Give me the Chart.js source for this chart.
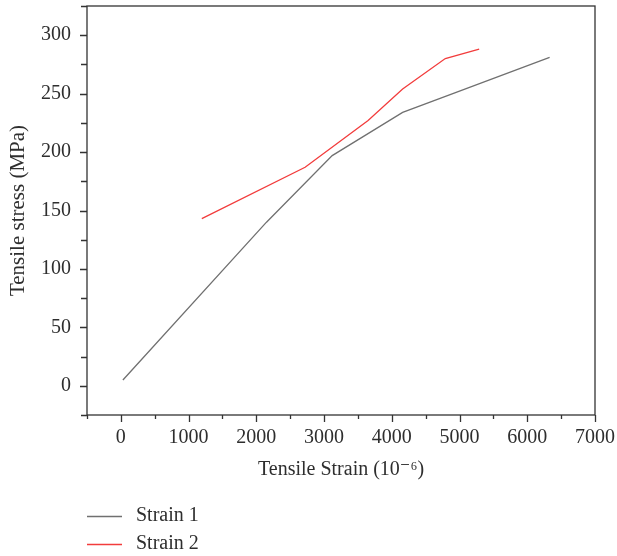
<!DOCTYPE html>
<html>
<head>
<meta charset="utf-8">
<script src="https://cdn.jsdelivr.net/npm/chart.js@4.4.1/dist/chart.umd.min.js"></script>
<style>
html,body{margin:0;padding:0;background:#fff;}
#wrap{width:617px;height:556px;}
</style>
</head>
<body>
<div id="wrap"><canvas id="c" width="617" height="556"></canvas></div>
<script>
// Data
const strain1X = [30, 2150, 3120, 4160, 4950, 6330];
const strain1Y = [5, 140, 197, 234, 251, 281];
const strain2X = [1195, 2720, 3650, 4160, 4790, 5290];
const strain2Y = [143, 187, 227, 254, 280, 288];
const seriesLabels = ['Strain 1', 'Strain 2'];
const seriesColors = ['#707070', '#f23c3c'];
const xTickLabels = [0, 1000, 2000, 3000, 4000, 5000, 6000, 7000];
const yTickLabels = [0, 50, 100, 150, 200, 250, 300];
const xRange = [-500, 7000];
const yRange = [-25, 325];

const FONT = "'Liberation Serif', 'DejaVu Serif', serif";
const TXT = '#2e2e2e';

function pts(xs, ys){ return xs.map((x,i)=>({x:x, y:ys[i]})); }

function withMinors(majors, lo, hi){
  const step = majors[1]-majors[0];
  const out = [];
  for (let v = lo; v <= hi + 1e-9; v += step/2) out.push(v);
  return out;
}

const framePlugin = {
  id: 'frame',
  afterDraw(chart){
    const {ctx, chartArea:a, scales} = chart;
    ctx.save();
    ctx.strokeStyle = '#333';
    ctx.lineWidth = 1.3;
    ctx.strokeRect(a.left, a.top, a.right-a.left, a.bottom-a.top);
    // ticks
    const xs = scales.x, ys = scales.y;
    ctx.beginPath();
    xs.ticks.forEach(t=>{
      const p = Math.round(xs.getPixelForValue(t.value))+0.5;
      const major = xTickLabels.includes(t.value);
      ctx.moveTo(p, a.bottom);
      ctx.lineTo(p, a.bottom + (major?7:4));
    });
    ys.ticks.forEach(t=>{
      const p = Math.round(ys.getPixelForValue(t.value))+0.5;
      const major = yTickLabels.includes(t.value);
      ctx.moveTo(a.left, p);
      ctx.lineTo(a.left - (major?7:6), p);
    });
    ctx.stroke();
    // legend
    ctx.font = '20px ' + FONT;
    ctx.textBaseline = 'middle';
    chart.data.datasets.forEach((ds,i)=>{
      const y = 516 + i*28;
      ctx.strokeStyle = ds.borderColor;
      ctx.lineWidth = 1.3;
      ctx.beginPath();
      ctx.moveTo(87, y+0.5); ctx.lineTo(122, y+0.5);
      ctx.stroke();
      ctx.fillStyle = TXT;
      ctx.fillText(ds.label, 136, y);
    });
    ctx.restore();
  }
};

new Chart(document.getElementById('c'), {
  type: 'line',
  data: {
    datasets: [
      {label: seriesLabels[0], data: pts(strain1X, strain1Y), borderColor: seriesColors[0], borderWidth: 1.3, pointRadius: 0, tension: 0, fill: false},
      {label: seriesLabels[1], data: pts(strain2X, strain2Y), borderColor: seriesColors[1], borderWidth: 1.3, pointRadius: 0, tension: 0, fill: false}
    ]
  },
  options: {
    responsive: false,
    animation: false,
    events: [],
    layout: {padding: {left: 2, right: 22, top: 6, bottom: 70}},
    plugins: {legend: {display: false}, tooltip: {enabled: false}},
    scales: {
      x: {
        type: 'linear', min: xRange[0], max: xRange[1],
        afterBuildTicks(s){ s.ticks = withMinors(xTickLabels, xRange[0], xRange[1]).map(v=>({value:v})); },
        afterFit(s){ s.height = 71; s.paddingLeft = 0; s.paddingRight = 0; },
        grid: {display: false, drawTicks: false},
        border: {display: false},
        ticks: {
          autoSkip: false, maxRotation: 0, padding: 11, color: TXT,
          font: {family: FONT, size: 20},
          callback: v => xTickLabels.includes(v) ? String(v) : ''
        },
        title: {display: true, text: 'Tensile Strain (10⁻⁶)', color: TXT, font: {family: FONT, size: 20}, padding: {top: 4, bottom: 4}}
      },
      y: {
        type: 'linear', min: yRange[0], max: yRange[1],
        afterBuildTicks(s){ s.ticks = withMinors(yTickLabels, yRange[0], yRange[1]).map(v=>({value:v})); },
        afterFit(s){ s.width = 85; s.paddingTop = 0; s.paddingBottom = 0; },
        grid: {display: false, drawTicks: false},
        border: {display: false},
        ticks: {
          autoSkip: false, padding: 16, color: TXT,
          font: {family: FONT, size: 20},
          callback: v => yTickLabels.includes(v) ? String(v) : ''
        },
        title: {display: true, text: 'Tensile stress (MPa)', color: TXT, font: {family: FONT, size: 21}, padding: {top: 4, bottom: 4}}
      }
    }
  },
  plugins: [framePlugin]
});
</script>
</body>
</html>
